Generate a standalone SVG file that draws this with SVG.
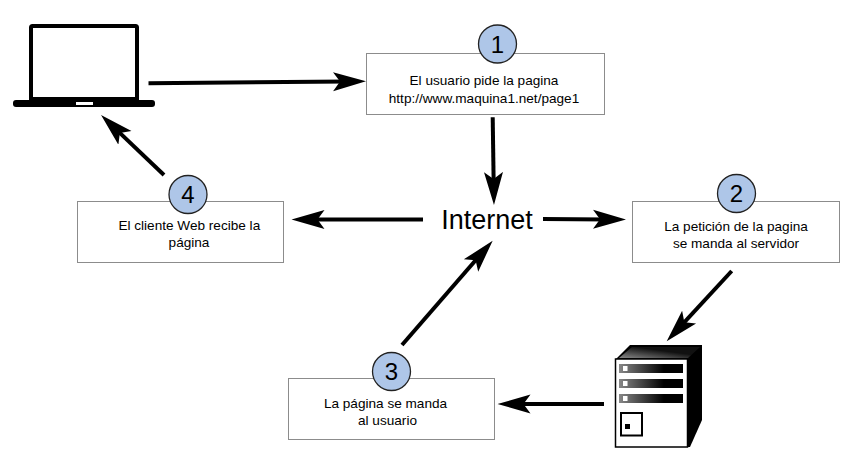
<svg xmlns="http://www.w3.org/2000/svg" width="856" height="471" viewBox="0 0 856 471">
<defs>
<marker id="ah" markerUnits="userSpaceOnUse" markerWidth="36" markerHeight="26" refX="14" refY="13" orient="auto"><path d="M0 3.500 L33 13 L0 22.500 L7 13 Z" fill="#000"/></marker>
<linearGradient id="g" x1="0" x2="1" y1="0" y2="0"><stop offset="0" stop-color="#888"/><stop offset="0.7" stop-color="#000"/></linearGradient>
<linearGradient id="t" x1="0" x2="1" y1="1" y2="0"><stop offset="0" stop-color="#888"/><stop offset="0.6" stop-color="#111"/></linearGradient>
</defs>
<style>
text{font-family:"Liberation Sans",Arial,sans-serif;fill:#000;text-anchor:middle}
.box{fill:#fff;stroke:#8c8c8c;stroke-width:1}
.num{fill:#aec6e8;stroke:#222;stroke-width:1.3}
.lb{font-size:13.600px}
.n{font-size:24px}
.c{stroke:#000;stroke-width:4;fill:none;marker-end:url(#ah)}
</style>
<rect width="856" height="471" fill="#fff"/>
<g id="connectors">
<line class="c" x1="148.500" y1="83.300" x2="347" y2="81.500"/>
<line class="c" x1="492.700" y1="117.300" x2="493.700" y2="186"/>
<line class="c" x1="423" y1="219.500" x2="310.500" y2="219.500"/>
<line class="c" x1="543" y1="219" x2="607" y2="219.400"/>
<line class="c" x1="731.700" y1="271" x2="679.600" y2="327.400"/>
<line class="c" x1="604" y1="404" x2="516.500" y2="404"/>
<line class="c" x1="402" y1="345" x2="480.200" y2="255"/>
<line class="c" x1="164" y1="175" x2="114.800" y2="128.100"/>
</g>
<g id="laptop">
<rect x="31" y="26" width="106" height="73" rx="1.500" fill="#fff" stroke="#000" stroke-width="4"/>
<rect x="29" y="97" width="110" height="10" fill="#000"/>
<rect x="13" y="100" width="142" height="7" rx="3" fill="#000"/>
<rect x="76" y="102" width="17" height="3" fill="#fff"/>
</g>
<g id="server">
<path d="M615 360 L630 345 L702 345 L702 420 L690 447 L615 447 Z" fill="#000"/>
<path d="M619 358 L632 347 L700 347 L688 358 Z" fill="url(#t)"/>
<rect x="615.500" y="359" width="72" height="88" fill="#fff" stroke="#000" stroke-width="1.500"/>
<rect x="619" y="364" width="64" height="9" fill="url(#g)"/>
<rect x="619" y="379" width="64" height="9" fill="url(#g)"/>
<rect x="619" y="394" width="64" height="9" fill="url(#g)"/>
<rect x="623" y="366" width="4.500" height="5" fill="#fff"/>
<rect x="623" y="381" width="4.500" height="5" fill="#fff"/>
<rect x="623" y="396" width="4.500" height="5" fill="#fff"/>
<rect x="621" y="413" width="21" height="22.500" fill="#fff" stroke="#000" stroke-width="2"/>
<rect x="625" y="424" width="5" height="5" fill="#000"/>
</g>
<g id="internet"><text x="487" y="229" font-size="27">Internet</text></g>
<g id="n1">
<rect class="box" x="366.500" y="53.500" width="238" height="61"/>
<circle class="num" cx="497.500" cy="44" r="19"/>
<text class="n" x="497.500" y="52.500">1</text>
<text class="lb" x="484" y="85">El usuario pide la pagina</text>
<text class="lb" x="484" y="102.500">http://www.maquina1.net/page1</text>
</g>
<g id="n2">
<rect class="box" x="632.500" y="201.500" width="207" height="61"/>
<circle class="num" cx="736.500" cy="193.500" r="19"/>
<text class="n" x="736.500" y="202">2</text>
<text class="lb" x="736" y="231">La petición de la pagina</text>
<text class="lb" x="736" y="248">se manda al servidor</text>
</g>
<g id="n3">
<rect class="box" x="288.500" y="378.500" width="206" height="61"/>
<circle class="num" cx="391.500" cy="371.500" r="19"/>
<text class="n" x="391.500" y="380">3</text>
<text class="lb" x="385.500" y="408">La página se manda</text>
<text class="lb" x="387.500" y="424.500">al usuario</text>
</g>
<g id="n4">
<rect class="box" x="77.500" y="201.500" width="206" height="61"/>
<circle class="num" cx="188" cy="194.500" r="19"/>
<text class="n" x="188" y="202.500">4</text>
<text class="lb" x="189.300" y="229.500">El cliente Web recibe la</text>
<text class="lb" x="189" y="246.500">página</text>
</g>
</svg>
